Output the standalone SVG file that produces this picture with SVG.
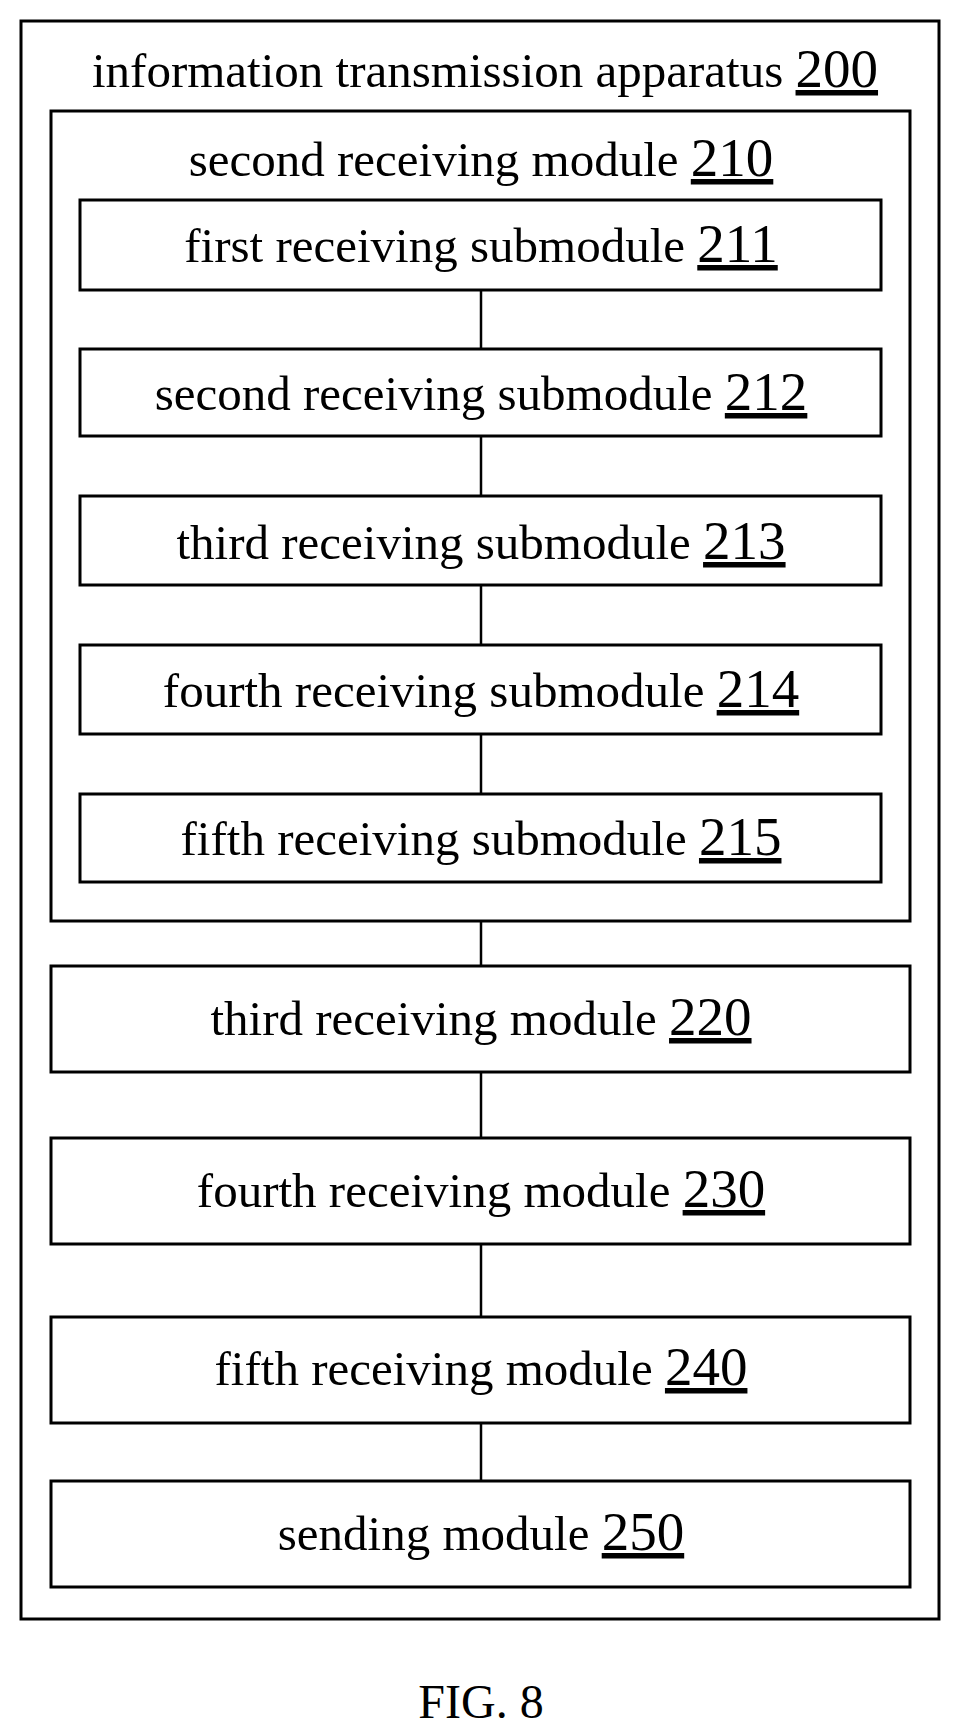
<svg xmlns="http://www.w3.org/2000/svg" width="958" height="1732" viewBox="0 0 958 1732">
<style>
rect{fill:none;stroke:#000;stroke-width:3}
text{font-family:"Liberation Serif",serif;font-size:49px;text-anchor:middle;fill:#000}
.u{text-decoration:underline;font-size:55px}
line{stroke:#000;stroke-width:2.5}
</style>
<rect width="958" height="1732" style="fill:#fff;stroke:none"/>
<g id="n200"><rect x="21" y="21" width="918" height="1598"/><text x="485" y="87">information transmission apparatus <tspan class="u">200</tspan></text></g>
<g id="n210"><rect x="51" y="111" width="859" height="810"/><text x="481" y="176">second receiving module <tspan class="u">210</tspan></text></g>
<g id="n211"><rect x="80" y="200" width="801" height="90"/><text x="481" y="262">first receiving submodule <tspan class="u">211</tspan></text></g>
<g id="n212"><rect x="80" y="349" width="801" height="87"/><text x="481" y="410">second receiving submodule <tspan class="u">212</tspan></text></g>
<g id="n213"><rect x="80" y="496" width="801" height="89"/><text x="481" y="559">third receiving submodule <tspan class="u">213</tspan></text></g>
<g id="n214"><rect x="80" y="645" width="801" height="89"/><text x="481" y="707">fourth receiving submodule <tspan class="u">214</tspan></text></g>
<g id="n215"><rect x="80" y="794" width="801" height="88"/><text x="481" y="855">fifth receiving submodule <tspan class="u">215</tspan></text></g>
<g id="n220"><rect x="51" y="966" width="859" height="106"/><text x="481" y="1035">third receiving module <tspan class="u">220</tspan></text></g>
<g id="n230"><rect x="51" y="1138" width="859" height="106"/><text x="481" y="1207">fourth receiving module <tspan class="u">230</tspan></text></g>
<g id="n240"><rect x="51" y="1317" width="859" height="106"/><text x="481" y="1385">fifth receiving module <tspan class="u">240</tspan></text></g>
<g id="n250"><rect x="51" y="1481" width="859" height="106"/><text x="481" y="1550">sending module <tspan class="u">250</tspan></text></g>
<g id="connectors">
<line x1="481" y1="290" x2="481" y2="349"/>
<line x1="481" y1="436" x2="481" y2="496"/>
<line x1="481" y1="585" x2="481" y2="645"/>
<line x1="481" y1="734" x2="481" y2="794"/>
<line x1="481" y1="921" x2="481" y2="966"/>
<line x1="481" y1="1072" x2="481" y2="1138"/>
<line x1="481" y1="1244" x2="481" y2="1317"/>
<line x1="481" y1="1423" x2="481" y2="1481"/>
</g>
<text x="481" y="1718" style="font-size:48px">FIG. 8</text>
</svg>
